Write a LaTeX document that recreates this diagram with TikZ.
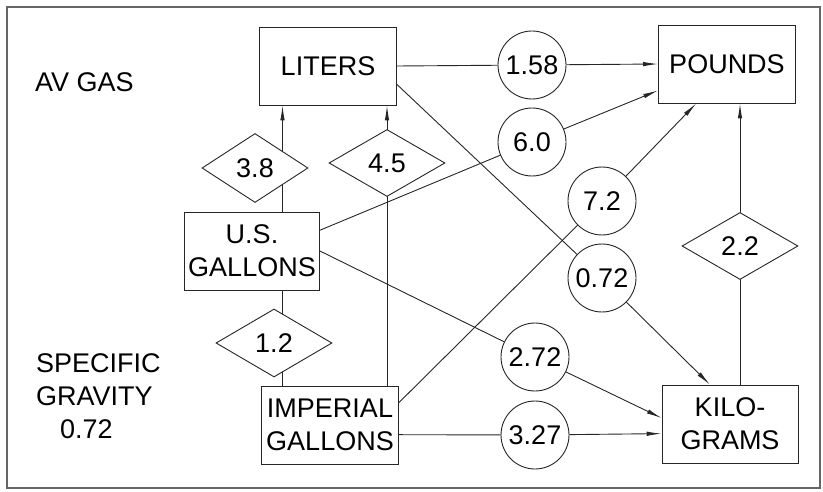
\documentclass[tikz,border=0pt]{standalone}
\usepackage{fontspec}
\setmainfont{Liberation Sans}
\usetikzlibrary{shapes.geometric,arrows.meta,backgrounds}
\begin{document}
\begin{tikzpicture}[x=1pt,y=-1pt,
  every node/.style={font=\fontsize{27}{33}\selectfont},
  unitbox/.style={draw=black!85, line width=0.9pt, fill=white, minimum width=137pt, minimum height=78pt, inner sep=0pt, align=center},
  factor/.style={draw=black!85, line width=0.9pt, fill=white, circle, minimum size=68pt, inner sep=0pt},
  ratio/.style={draw=black!85, line width=0.9pt, fill=white, diamond, minimum width=116pt, minimum height=68pt, inner sep=0pt},
  conn/.style={draw=black!85, line width=0.9pt},
  arr/.style={conn, -{Latex[length=15pt,width=4.5pt]}},
  label/.style={align=left, inner sep=0pt, anchor=north west}
]
\useasboundingbox (0,0) rectangle (823,492);
\draw[black!60, line width=1.6pt] (7,7) rectangle (820,488);

% boxes
\node[unitbox] (lit) at (328,66) {LITERS};
\node[unitbox] (pou) at (727,64) {POUNDS};
\node[unitbox, minimum width=135pt] (usg) at (252,251) {U.S.\\GALLONS};
\node[unitbox] (img) at (330,425) {IMPERIAL\\GALLONS};
\node[unitbox, minimum width=136pt] (kg) at (730,424) {KILO-\\GRAMS};

% diamonds
\node[ratio, minimum width=106pt, minimum height=69pt] (d38) at (255,168) {3.8};
\node[ratio, minimum height=67pt] (d45) at (387,163) {4.5};
\node[ratio] (d12) at (274,343) {1.2};
\node[ratio, minimum height=67pt] (d22) at (740,246) {2.2};

% circles
\node[factor] (c158) at (532,65) {1.58};
\node[factor] (c60) at (532,142) {6.0};
\node[factor] (c72) at (602,201) {7.2};
\node[factor] (c072) at (602,278) {0.72};
\node[factor] (c272) at (535,357) {2.72};
\node[factor] (c327) at (535,435) {3.27};

% labels
\node[label] (avgas) at (35,72) {AV GAS};
\node[label] (sg) at (36,353) {SPECIFIC\\GRAVITY\\\hspace*{24pt}0.72};

\coordinate (xa) at (282.5,0);

\begin{scope}[on background layer]
  \draw[arr] (usg.north -| xa) -- (lit.south -| xa);
  \draw[conn] (usg.south -| xa) -- (img.north -| xa);
  \draw[arr] (img.north -| d45) -- (lit.south -| d45);
  \draw[arr] (kg.north -| d22) -- (pou.south -| d22);
\end{scope}

\draw[conn] (lit.east) -- (c158);
\draw[arr] (c158) -- (pou.west);
\draw[conn] (usg.17) -- (c60);
\draw[arr] (c60) -- (pou.201);
\draw[conn] (img.18) -- (c72);
\draw[arr] (c72) -- (pou.232);
\draw[conn] (lit.345) -- (c072);
\draw[arr] (c072) -- (kg.117);
\draw[conn] (usg.east) -- (c272);
\draw[arr] (c272) -- (kg.175);
\draw[conn] (img.352) -- (c327);
\draw[arr] (c327) -- (kg.188);
\end{tikzpicture}
\end{document}
